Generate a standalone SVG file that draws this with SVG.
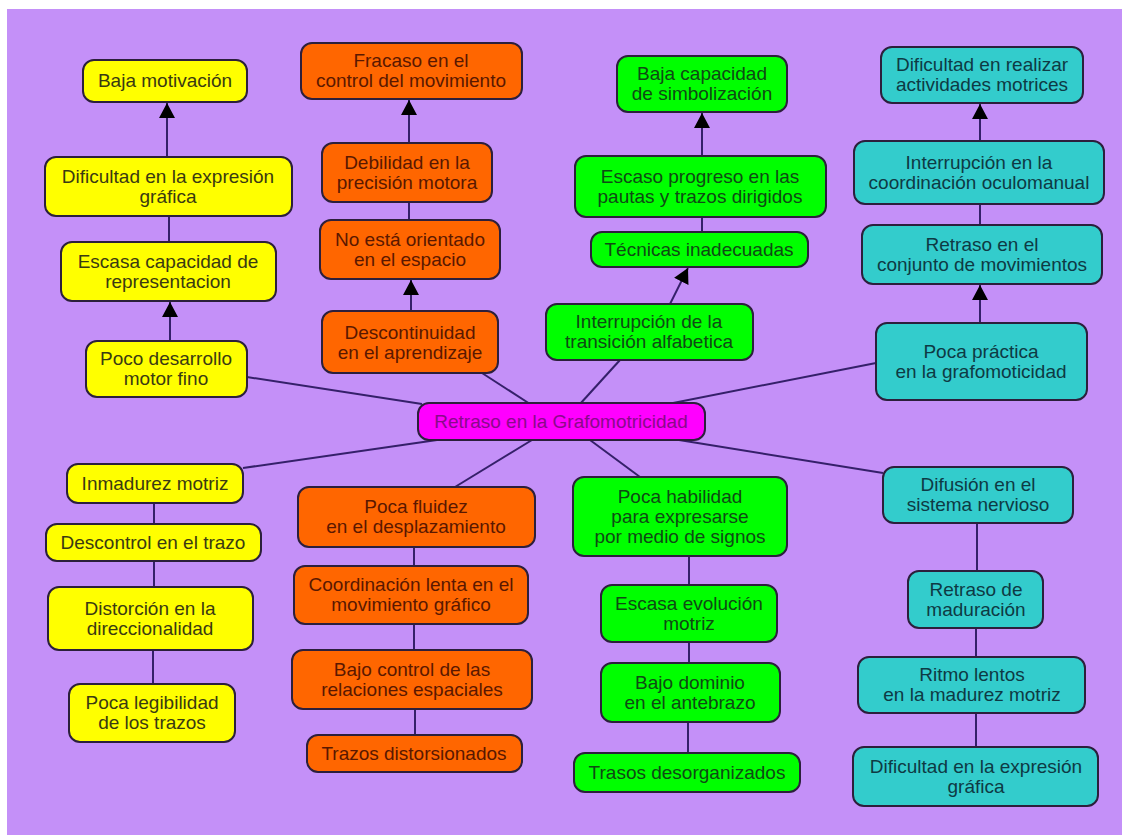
<svg xmlns="http://www.w3.org/2000/svg" width="1122" height="835" viewBox="0 0 1122 835">
<defs>
<style>
.n rect{stroke:#2c1f3c;stroke-width:2}
.y rect{fill:#ffff00}.y text{fill:#3a3a12}
.o rect{fill:#ff6600}.o text{fill:#5a1800}
.g rect{fill:#00ff00}.g text{fill:#0f4a14}
.t rect{fill:#33cccc}.t text{fill:#0e3a44}
.c rect{fill:#ff00ff}.c text{fill:#8a0a8a}
text{font-family:"Liberation Sans",Arial,sans-serif;font-size:19px;text-anchor:middle}
.l line{stroke:#35206a;stroke-width:2;fill:none}
</style>
<marker id="ah" markerUnits="userSpaceOnUse" markerWidth="16" markerHeight="18" refX="15" refY="8" orient="auto">
<path d="M0,0 L15,8 L0,16 Z" fill="#000"/>
</marker>
</defs>
<rect x="0" y="0" width="1122" height="835" fill="#ffffff"/>
<rect x="7" y="9" width="1115" height="826" fill="#c490f8"/>

<g id="connectors" class="l">
<line x1="170" y1="341" x2="170" y2="302" marker-end="url(#ah)"/>
<line x1="167" y1="157" x2="167" y2="103" marker-end="url(#ah)"/>
<line x1="409" y1="143" x2="409" y2="100" marker-end="url(#ah)"/>
<line x1="411" y1="311" x2="411" y2="280" marker-end="url(#ah)"/>
<line x1="702" y1="156" x2="702" y2="113" marker-end="url(#ah)"/>
<line x1="670" y1="304" x2="688" y2="268" marker-end="url(#ah)"/>
<line x1="980" y1="141" x2="980" y2="104" marker-end="url(#ah)"/>
<line x1="980" y1="323" x2="980" y2="285" marker-end="url(#ah)"/>
<line x1="169" y1="216" x2="169" y2="242"/>
<line x1="409" y1="202" x2="409" y2="220"/>
<line x1="702" y1="217" x2="702" y2="232"/>
<line x1="980" y1="204" x2="980" y2="225"/>
<line x1="154" y1="503" x2="154" y2="524"/>
<line x1="154" y1="561" x2="154" y2="587"/>
<line x1="153" y1="650" x2="153" y2="684"/>
<line x1="414" y1="547" x2="414" y2="566"/>
<line x1="414" y1="624" x2="414" y2="650"/>
<line x1="415" y1="709" x2="415" y2="735"/>
<line x1="689" y1="556" x2="689" y2="585"/>
<line x1="689" y1="642" x2="689" y2="663"/>
<line x1="688" y1="722" x2="688" y2="753"/>
<line x1="977" y1="523" x2="977" y2="571"/>
<line x1="976" y1="628" x2="976" y2="657"/>
<line x1="976" y1="713" x2="976" y2="747"/>
<line x1="247" y1="377" x2="422" y2="404"/>
<line x1="482" y1="373" x2="530" y2="404"/>
<line x1="620" y1="360" x2="580" y2="404"/>
<line x1="876" y1="363" x2="668" y2="404"/>
<line x1="243" y1="468" x2="437" y2="440"/>
<line x1="455" y1="487" x2="532" y2="440"/>
<line x1="590" y1="440" x2="640" y2="477"/>
<line x1="679" y1="440" x2="883" y2="473"/>
</g>

<g id="center" class="n c"><rect x="418" y="403" width="287" height="37" rx="11"/><text x="561" y="428">Retraso en la Grafomotricidad</text></g>

<g id="y1" class="n y"><rect x="83" y="60" width="164" height="42" rx="11"/><text x="165" y="87">Baja motivación</text></g>
<g id="y2" class="n y"><rect x="45" y="157" width="247" height="59" rx="11"/><text x="168" y="183">Dificultad en la expresión</text><text x="168" y="203">gráfica</text></g>
<g id="y3" class="n y"><rect x="61" y="242" width="215" height="59" rx="11"/><text x="168" y="268">Escasa capacidad de</text><text x="168" y="288">representacion</text></g>
<g id="y4" class="n y"><rect x="86" y="341" width="161" height="56" rx="11"/><text x="166" y="365">Poco desarrollo</text><text x="166" y="385">motor fino</text></g>
<g id="y5" class="n y"><rect x="67" y="464" width="176" height="39" rx="11"/><text x="155" y="490">Inmadurez motriz</text></g>
<g id="y6" class="n y"><rect x="46" y="524" width="215" height="37" rx="11"/><text x="153" y="549">Descontrol en el trazo</text></g>
<g id="y7" class="n y"><rect x="48" y="587" width="205" height="63" rx="11"/><text x="150" y="615">Distorción en la</text><text x="150" y="635">direccionalidad</text></g>
<g id="y8" class="n y"><rect x="69" y="684" width="166" height="58" rx="11"/><text x="152" y="709">Poca legibilidad</text><text x="152" y="729">de los trazos</text></g>

<g id="o1" class="n o"><rect x="301" y="43" width="221" height="56" rx="11"/><text x="411" y="67">Fracaso en el</text><text x="411" y="87">control del movimiento</text></g>
<g id="o2" class="n o"><rect x="322" y="143" width="170" height="59" rx="11"/><text x="407" y="169">Debilidad en la</text><text x="407" y="189">precisión motora</text></g>
<g id="o3" class="n o"><rect x="320" y="220" width="180" height="59" rx="11"/><text x="410" y="246">No está orientado</text><text x="410" y="266">en el espacio</text></g>
<g id="o4" class="n o"><rect x="322" y="311" width="176" height="62" rx="11"/><text x="410" y="339">Descontinuidad</text><text x="410" y="359">en el aprendizaje</text></g>
<g id="o5" class="n o"><rect x="298" y="487" width="237" height="60" rx="11"/><text x="416" y="513">Poca fluidez</text><text x="416" y="533">en el desplazamiento</text></g>
<g id="o6" class="n o"><rect x="294" y="566" width="234" height="58" rx="11"/><text x="411" y="591">Coordinación lenta en el</text><text x="411" y="611">movimiento gráfico</text></g>
<g id="o7" class="n o"><rect x="292" y="650" width="240" height="59" rx="11"/><text x="412" y="676">Bajo control de las</text><text x="412" y="696">relaciones espaciales</text></g>
<g id="o8" class="n o"><rect x="307" y="735" width="215" height="37" rx="11"/><text x="414" y="760">Trazos distorsionados</text></g>

<g id="g1" class="n g"><rect x="617" y="56" width="170" height="56" rx="11"/><text x="702" y="80">Baja capacidad</text><text x="702" y="100">de simbolización</text></g>
<g id="g2" class="n g"><rect x="575" y="156" width="251" height="61" rx="11"/><text x="700" y="183">Escaso progreso en las</text><text x="700" y="203">pautas y trazos dirigidos</text></g>
<g id="g3" class="n g"><rect x="591" y="232" width="217" height="35" rx="11"/><text x="699" y="256">Técnicas inadecuadas</text></g>
<g id="g4" class="n g"><rect x="546" y="304" width="207" height="56" rx="11"/><text x="649" y="328">Interrupción de la</text><text x="649" y="348">transición alfabetica</text></g>
<g id="g5" class="n g"><rect x="573" y="477" width="214" height="79" rx="11"/><text x="680" y="503">Poca habilidad</text><text x="680" y="523">para expresarse</text><text x="680" y="543">por medio de signos</text></g>
<g id="g6" class="n g"><rect x="601" y="585" width="176" height="57" rx="11"/><text x="689" y="610">Escasa evolución</text><text x="689" y="630">motriz</text></g>
<g id="g7" class="n g"><rect x="601" y="663" width="179" height="59" rx="11"/><text x="690" y="689">Bajo dominio</text><text x="690" y="709">en el antebrazo</text></g>
<g id="g8" class="n g"><rect x="574" y="753" width="226" height="39" rx="11"/><text x="687" y="779">Trasos desorganizados</text></g>

<g id="t1" class="n t"><rect x="881" y="47" width="202" height="56" rx="11"/><text x="982" y="71">Dificultad en realizar</text><text x="982" y="91">actividades motrices</text></g>
<g id="t2" class="n t"><rect x="854" y="141" width="250" height="63" rx="11"/><text x="979" y="169">Interrupción en la</text><text x="979" y="189">coordinación oculomanual</text></g>
<g id="t3" class="n t"><rect x="862" y="225" width="240" height="59" rx="11"/><text x="982" y="251">Retraso en el</text><text x="982" y="271">conjunto de movimientos</text></g>
<g id="t4" class="n t"><rect x="876" y="323" width="211" height="77" rx="11"/><text x="981" y="358">Poca práctica</text><text x="981" y="378">en la grafomoticidad</text></g>
<g id="t5" class="n t"><rect x="883" y="467" width="190" height="56" rx="11"/><text x="978" y="491">Difusión en el</text><text x="978" y="511">sistema nervioso</text></g>
<g id="t6" class="n t"><rect x="908" y="571" width="135" height="57" rx="11"/><text x="976" y="596">Retraso de</text><text x="976" y="616">maduración</text></g>
<g id="t7" class="n t"><rect x="858" y="657" width="227" height="56" rx="11"/><text x="972" y="681">Ritmo lentos</text><text x="972" y="701">en la madurez motriz</text></g>
<g id="t8" class="n t"><rect x="853" y="747" width="245" height="59" rx="11"/><text x="976" y="773">Dificultad en la expresión</text><text x="976" y="793">gráfica</text></g>
</svg>
